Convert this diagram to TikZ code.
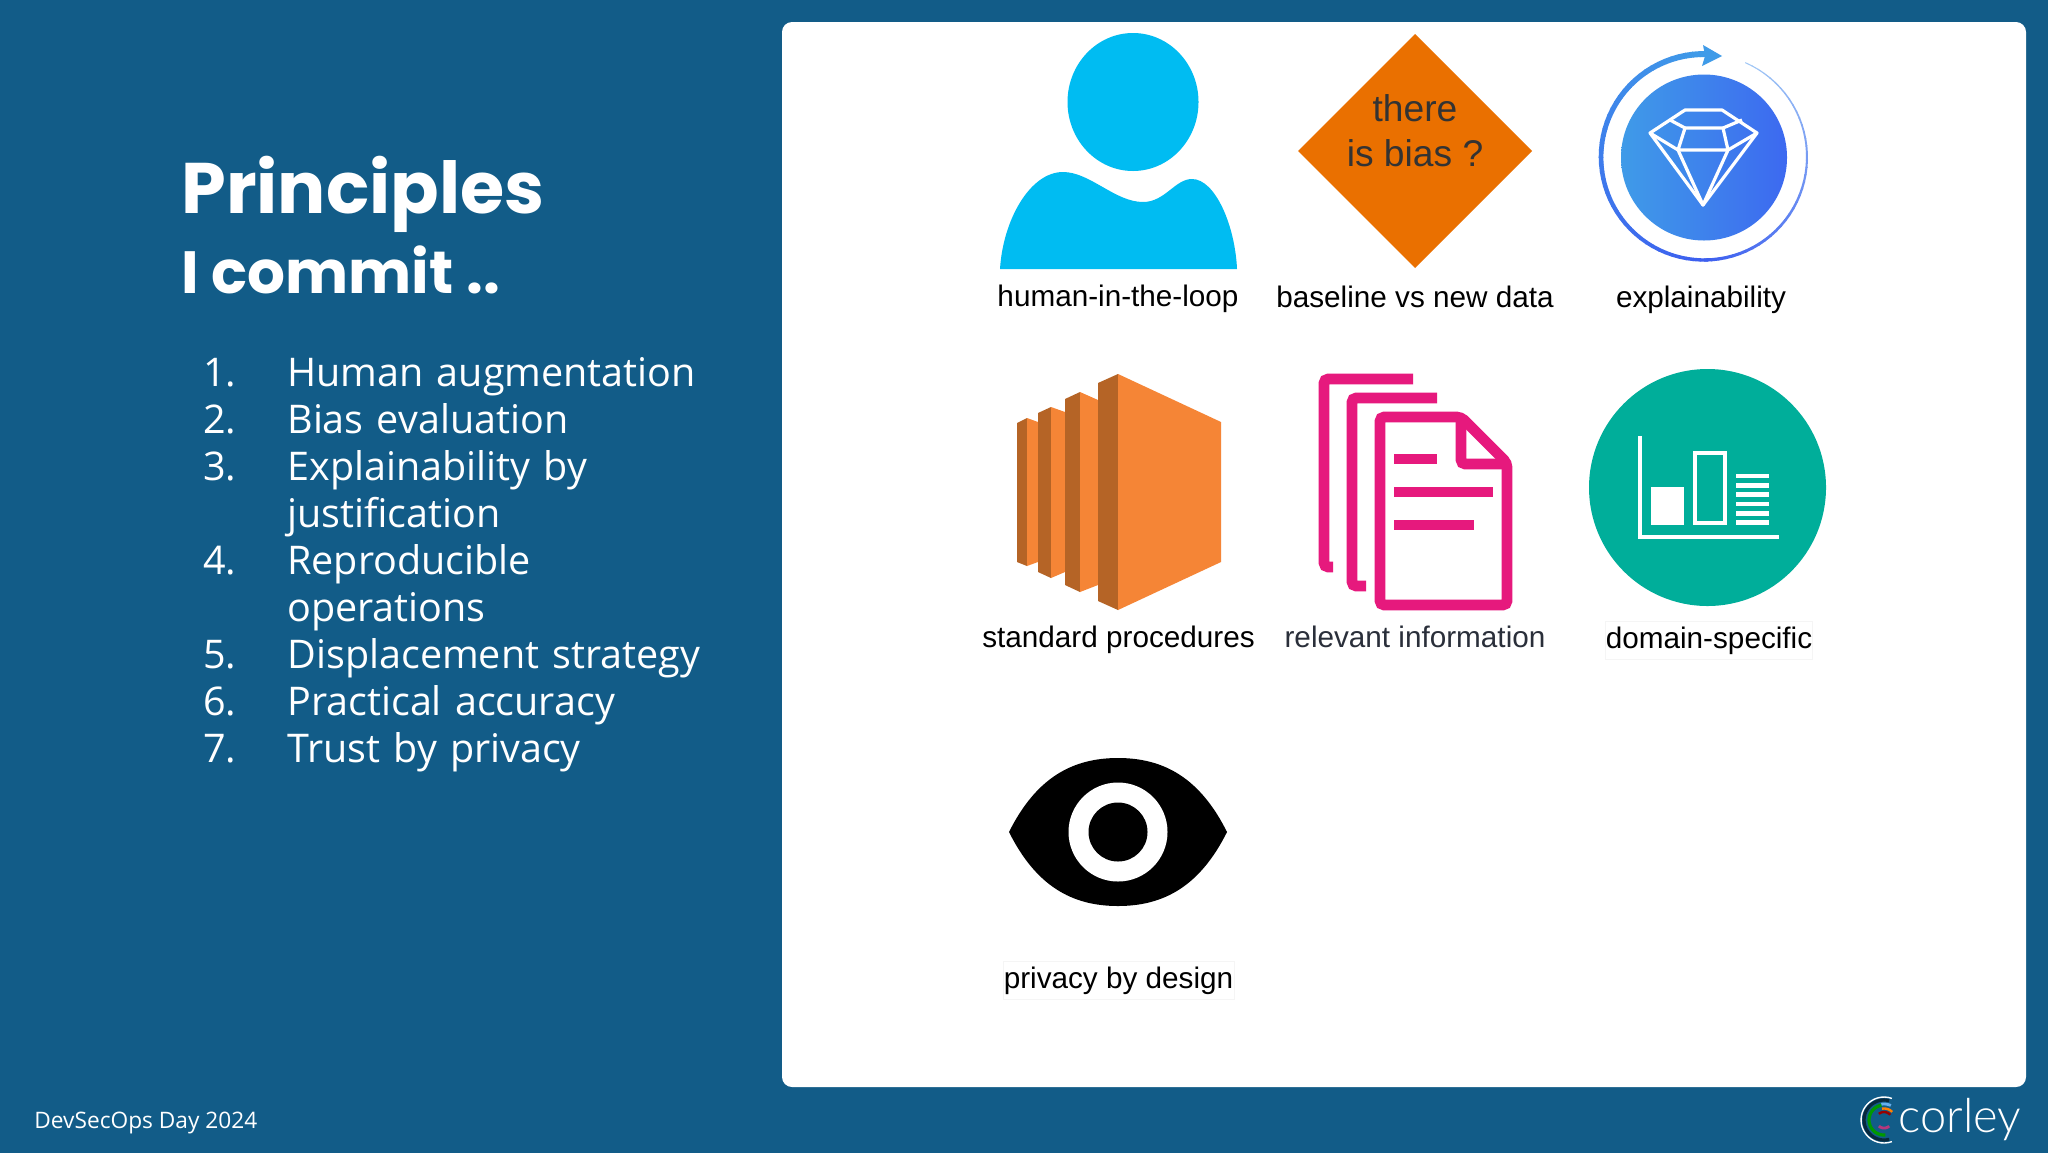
\documentclass[tikz,border=0pt]{standalone}
\usepackage{fontspec}
\setmainfont{Liberation Sans}
\newfontfamily\bodyfont{Open Sans}
\newfontfamily\titlefont{Poppins}
\newfontfamily\logofont{Lato Light}
\usetikzlibrary{positioning}
\definecolor{slidebg}{HTML}{125C88}
\definecolor{personblue}{HTML}{00BCF2}
\definecolor{biasorange}{HTML}{EA7000}
\definecolor{biastext}{HTML}{333333}
\definecolor{ringa}{HTML}{3F9BE8}
\definecolor{ringb}{HTML}{3D5FEF}
\definecolor{ringc}{HTML}{A5CBF6}
\definecolor{discright}{HTML}{3D69F0}
\definecolor{boxlight}{HTML}{F58536}
\definecolor{boxdark}{HTML}{B56426}
\definecolor{docpink}{HTML}{E6197D}
\definecolor{domaingreen}{HTML}{00AE9A}
\definecolor{infotext}{HTML}{2A2F3A}
\tikzstyle{every node}=[inner sep=0pt]
\tikzstyle{title} = [anchor=base west, text=white, font=\titlefont\bfseries\fontsize{35.8}{35.8}\selectfont]
\tikzstyle{subtitle} = [anchor=base west, text=white, font=\titlefont\bfseries\fontsize{29.8}{29.8}\selectfont]
\tikzstyle{listnum} = [anchor=base west, text=white, font=\bodyfont\fontsize{19.75}{19.75}\selectfont]
\tikzstyle{listitem} = [text=white, font=\bodyfont\fontsize{19.75}{19.75}\selectfont, text width=260pt, text height=15pt, text depth=5pt, align=left, node distance=23.5pt]
\tikzstyle{footer} = [anchor=base west, text=white, font=\bodyfont\fontsize{11.35}{11.35}\selectfont]
\tikzstyle{caption} = [anchor=base, text=black, font=\fontsize{14.85}{14.85}\selectfont]
\tikzstyle{snip} = [caption, draw=black!4, line width=0.3pt, inner xsep=0.3pt, inner ysep=2.5pt]
\tikzstyle{biastxt} = [anchor=base, text=biastext, font=\fontsize{18.6}{18.6}\selectfont]
\tikzstyle{gemline} = [white, line width=1.6pt, line join=round]
\tikzstyle{docline} = [docpink, line width=5.3pt, rounded corners=2pt]
\tikzstyle{docbar} = [docpink, line width=5.3pt]
\begin{document}
\begin{tikzpicture}[x=0.5pt,y=-0.5pt]
	\useasboundingbox (0,0) rectangle (2048,1152);
	\fill [slidebg] (-4,-4) rectangle (2052,1156);
	\fill [white, rounded corners=5pt] (782,22) rectangle (2026,1087);

	%left column
	\node (title) [title] at (181,213) {Principles};
	\node (commit) [subtitle] at (181,293) {I commit ..};
	\node (num1) [listnum] at (203,386) {1.};
	\node (num2) [listnum] at (203,433) {2.};
	\node (num3) [listnum] at (203,480) {3.};
	\node (num4) [listnum] at (203,574) {4.};
	\node (num5) [listnum] at (203,668) {5.};
	\node (num6) [listnum] at (203,715) {6.};
	\node (num7) [listnum] at (203,762) {7.};
	\node (item1) [listitem, anchor=base west] at (287,386) {Human augmentation};
	\node (item2) [listitem, below of=item1] {Bias evaluation};
	\node (item3) [listitem, below of=item2] {Explainability by};
	\node (item3b) [listitem, below of=item3] {justification};
	\node (item4) [listitem, below of=item3b] {Reproducible};
	\node (item4b) [listitem, below of=item4] {operations};
	\node (item5) [listitem, below of=item4b] {Displacement strategy};
	\node (item6) [listitem, below of=item5] {Practical accuracy};
	\node (item7) [listitem, below of=item6] {Trust by privacy};
	\node (event) [footer] at (34,1128) {DevSecOps Day 2024};

	%person
	\fill [personblue] (1133,102) ellipse (65.5 and 69);
	\fill [personblue] (1000,269) .. controls (1003,220) and (1030,172) .. (1063,172) .. controls (1090,172) and (1115,202) .. (1143,202) .. controls (1165,202) and (1175,179) .. (1192,179) .. controls (1215,179) and (1235,225) .. (1237,269) -- cycle;
	\node (human) [caption] at (1118,306) {human-in-the-loop};

	%bias diamond
	\fill [biasorange] (1415,34) -- (1532,151) -- (1415,268) -- (1298,151) -- cycle;
	\node (there) [biastxt] at (1415,121) {there};
	\node (isbias) [biastxt] at (1415,166) {is bias ?};
	\node (baseline) [caption] at (1415,307) {baseline vs new data};

	%explainability ring and gem
	\begin{scope}[shift={(1704,157)}]
		\foreach \a in {272,268,...,92}
			\draw [line cap=butt, line width={0.5pt+2.5pt*(\a+66)/338}, color={ringb!\fpeval{round((272-\a)/1.8)}!ringa}] (\a:103) -- (\a-4.4:103);
		\foreach \a in {90,86,...,-62}
			\draw [line cap=butt, line width={0.5pt+2.5pt*(\a+66)/338}, color={ringc!\fpeval{round((90-\a)/1.56)}!ringb}] (\a:103) -- (\a-4.4:103);
	\end{scope}
	\fill [ringa] (1703,45) -- (1722,56) -- (1702,66) -- (1705,56) -- cycle;
	\shade [left color=ringa, right color=discright] (1704,157.5) circle (83);
	\draw [gemline] (1650,133) -- (1685,110) -- (1722,110) -- (1757,133) -- (1703,205) -- cycle;
	\draw [gemline] (1650,133) -- (1678,150) -- (1703,205) -- (1728,150) -- (1757,133);
	\draw [gemline] (1678,150) -- (1728,150) -- (1723,128) -- (1685,128) -- cycle;
	\draw [gemline] (1670,120) -- (1685,128);
	\draw [gemline] (1742,120) -- (1723,128);
	\node (explain) [caption] at (1701,307) {explainability};

	%stacked panels
	\fill [boxdark] (1017,423) -- (1027,418) -- (1027,566) -- (1017,562) -- cycle;
	\fill [boxlight] (1027,418) -- (1038,422) -- (1038,562) -- (1027,566) -- cycle;
	\fill [boxdark] (1038,413) -- (1051,407) -- (1051,578) -- (1038,572) -- cycle;
	\fill [boxlight] (1051,407) -- (1065,412) -- (1065,572) -- (1051,578) -- cycle;
	\fill [boxdark] (1065,399) -- (1080,392) -- (1080,592) -- (1065,585) -- cycle;
	\fill [boxlight] (1080,392) -- (1098,400) -- (1098,585) -- (1080,592) -- cycle;
	\fill [boxdark] (1098,383) -- (1118,374) -- (1118,610) -- (1098,601) -- cycle;
	\fill [boxlight] (1118,374) -- (1221,422) -- (1221,562) -- (1118,610) -- cycle;
	\node (standard) [caption] at (1118.5,647) {standard procedures};

	%documents
	\draw [docline] (1413,379) -- (1324,379) -- (1324,567) -- (1333,567);
	\draw [docline] (1437,398) -- (1352,398) -- (1352,586) -- (1366,586);
	\draw [docline] (1380,417) -- (1461,417) -- (1507,463) -- (1507,605) -- (1380,605) -- cycle;
	\draw [docline] (1461,417) -- (1461,464) -- (1507,464);
	\draw [docbar] (1394,459) -- (1437,459);
	\draw [docbar] (1394,492) -- (1493,492);
	\draw [docbar] (1394,525) -- (1474,525);
	\node (relevant) [caption, text=infotext] at (1415,647) {relevant information};

	%domain chart
	\fill [domaingreen] (1707.5,487.5) circle (118.5);
	\draw [white, line width=2.3pt, line join=miter] (1640,436) -- (1640,537) -- (1779,537);
	\fill [white] (1651,487) rectangle (1684,525);
	\draw [white, line width=2pt] (1695,452.7) rectangle (1725,523);
	\foreach \yy in {476,485.3,494.6,503.9,513.2,522.5}
		\fill [white] (1736,\yy-2.4) rectangle (1769,\yy+2.4);
	\node (domain) [snip] at (1709,648) {domain-specific};

	%eye
	\fill [black] (1009,832) .. controls (1036,778) and (1072,758) .. (1118,758) .. controls (1164,758) and (1200,778) .. (1227,832) .. controls (1200,886) and (1164,906) .. (1118,906) .. controls (1072,906) and (1036,886) .. (1009,832) -- cycle;
	\fill [white] (1118,832) circle (49.5);
	\fill [black] (1118,832) circle (29.5);
	\node (privacy) [snip] at (1118.5,988) {privacy by design};

	%logo
	\foreach \rr/\aa/\bb/\cc/\ww in {23/-70/-290/white/0.7pt, 20/-75/-285/black!55!slidebg/1.6pt, 16/-65/-100/ringa!80!white/1.4pt, 15/-100/-275/green!60!black/1.6pt, 11.5/-45/-100/orange/1.2pt, 8/-40/-130/red!60!black/1.2pt, 8/-230/-310/magenta!70!black/1.4pt}
		\draw [color=\cc, line width=\ww] plot [domain=\aa:\bb, samples=25] ({1884+\rr*cos(\x)},{1120+\rr*sin(\x)});
	\node (corley) [anchor=base west, text=white, font=\logofont\fontsize{23.5}{23.5}\selectfont] at (1898,1132) {corley};
\end{tikzpicture}
\end{document}
